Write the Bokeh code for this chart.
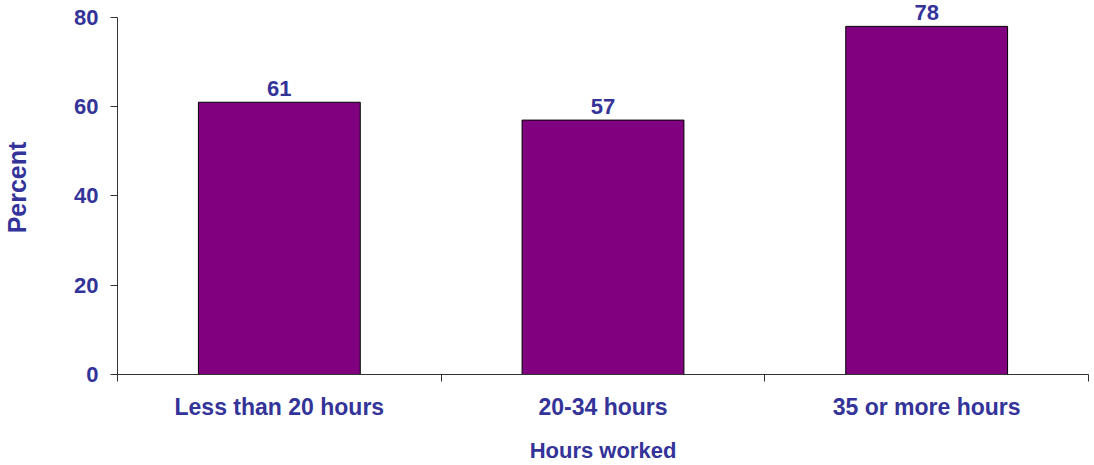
from bokeh.plotting import figure
from bokeh.models import Range1d, FixedTicker, ColumnDataSource
from bokeh.core.properties import value
from bokeh.embed import file_html
from bokeh.resources import INLINE

categories = ["Less than 20 hours", "20-34 hours", "35 or more hours"]
percent = [61, 57, 78]
y_ticks = [0, 20, 40, 60, 80]
x_title = "Hours worked"
y_title = "Percent"

TXT = "#333399"
FONT = "Liberation Sans"

xs = [i + 0.5 for i in range(len(categories))]
src = ColumnDataSource(dict(x=xs, top=percent, lab=[str(v) for v in percent]))

p = figure(width=1094, height=465, output_backend="svg", toolbar_location=None,
           x_range=Range1d(0, len(categories)), y_range=Range1d(0, 83.8),
           min_border_left=117, min_border_right=6, min_border_top=0, min_border_bottom=90)
p.outline_line_color = None
p.xgrid.grid_line_color = None
p.ygrid.grid_line_color = None

p.vbar(x="x", top="top", width=0.5, bottom=0, source=src,
       fill_color="#800080", line_color="black", line_width=1)
p.text(x="x", y="top", text="lab", source=src, text_align="center",
       text_baseline="alphabetic", y_offset=-14,
       text_font=value(FONT), text_font_style="bold", text_font_size="22px",
       text_color=TXT)

# y axis
ya = p.yaxis[0]
ya.ticker = FixedTicker(ticks=y_ticks)
ya.bounds = (0, 80)
ya.major_tick_out = 7
ya.major_tick_in = 0
ya.minor_tick_line_color = None
ya.axis_line_color = "#333333"
ya.major_tick_line_color = "#333333"
ya.major_label_standoff = 12
ya.major_label_text_font = FONT
ya.major_label_text_font_style = "bold"
ya.major_label_text_font_size = "22px"
ya.major_label_text_color = TXT
ya.axis_label = y_title
ya.axis_label_standoff = 40
ya.axis_label_text_font = FONT
ya.axis_label_text_font_style = "bold"
ya.axis_label_text_font_size = "25px"
ya.axis_label_text_line_height = 1.0
ya.axis_label_text_color = TXT

# x axis
xa = p.xaxis[0]
xa.ticker = FixedTicker(ticks=xs, minor_ticks=list(range(len(categories) + 1)))
xa.major_label_overrides = {x: c for x, c in zip(xs, categories)}
xa.major_tick_out = 0
xa.major_tick_in = 0
xa.major_tick_line_color = None
xa.minor_tick_out = 7
xa.minor_tick_in = 0
xa.minor_tick_line_color = "#333333"
xa.axis_line_color = "#333333"
xa.major_label_standoff = 12
xa.major_label_text_font = FONT
xa.major_label_text_font_style = "bold"
xa.major_label_text_font_size = "23px"
xa.major_label_text_line_height = 1.0
xa.major_label_text_color = TXT
xa.axis_label = x_title
xa.axis_label_standoff = 15
xa.axis_label_text_font = FONT
xa.axis_label_text_font_style = "bold"
xa.axis_label_text_font_size = "22px"
xa.axis_label_text_line_height = 1.0
xa.axis_label_text_color = TXT

open("out.html", "w").write(file_html(p, INLINE))
